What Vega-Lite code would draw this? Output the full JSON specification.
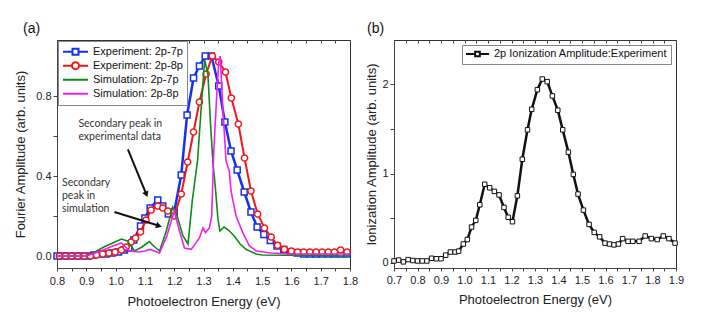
{
  "$schema": "https://vega.github.io/schema/vega-lite/v6.json",
  "padding": {"left": 14, "top": 21, "right": 4, "bottom": 4},
  "spacing": 6,
  "config": {
    "font": "Liberation Sans",
    "view": {"stroke": "#333", "strokeWidth": 1},
    "axis": {"labelFontSize": 11, "titleFontSize": 13, "labelColor": "#222", "titleColor": "#222", "titleFontWeight": "normal", "domainColor": "#444", "tickColor": "#444", "grid": false, "tickSize": 3, "labelPadding": 2},
    "title": {"fontSize": 14, "fontWeight": "normal", "anchor": "start", "frame": "group", "color": "#111"}
  },
  "resolve": {"scale": {"x": "independent", "y": "independent", "color": "independent", "shape": "independent"}},
  "datasets": {
    "expA": [
      {"s": "Experiment: 2p-7p", "E": 0.8, "v": 0}, {"s": "Experiment: 2p-7p", "E": 0.821, "v": 0}, {"s": "Experiment: 2p-7p", "E": 0.842, "v": 0}, {"s": "Experiment: 2p-7p", "E": 0.863, "v": 0}, {"s": "Experiment: 2p-7p", "E": 0.884, "v": 0}, {"s": "Experiment: 2p-7p", "E": 0.905, "v": 0}, {"s": "Experiment: 2p-7p", "E": 0.926, "v": 0.005}, {"s": "Experiment: 2p-7p", "E": 0.947, "v": 0.01}, {"s": "Experiment: 2p-7p", "E": 0.968, "v": 0.01}, {"s": "Experiment: 2p-7p", "E": 0.989, "v": 0.015}, {"s": "Experiment: 2p-7p", "E": 1.01, "v": 0.02}, {"s": "Experiment: 2p-7p", "E": 1.03, "v": 0.03}, {"s": "Experiment: 2p-7p", "E": 1.045, "v": 0.04}, {"s": "Experiment: 2p-7p", "E": 1.062, "v": 0.08}, {"s": "Experiment: 2p-7p", "E": 1.085, "v": 0.15}, {"s": "Experiment: 2p-7p", "E": 1.1, "v": 0.19}, {"s": "Experiment: 2p-7p", "E": 1.118, "v": 0.24}, {"s": "Experiment: 2p-7p", "E": 1.144, "v": 0.28}, {"s": "Experiment: 2p-7p", "E": 1.161, "v": 0.25}, {"s": "Experiment: 2p-7p", "E": 1.18, "v": 0.21}, {"s": "Experiment: 2p-7p", "E": 1.2, "v": 0.22}, {"s": "Experiment: 2p-7p", "E": 1.224, "v": 0.405}, {"s": "Experiment: 2p-7p", "E": 1.244, "v": 0.705}, {"s": "Experiment: 2p-7p", "E": 1.266, "v": 0.89}, {"s": "Experiment: 2p-7p", "E": 1.286, "v": 0.95}, {"s": "Experiment: 2p-7p", "E": 1.306, "v": 1.0}, {"s": "Experiment: 2p-7p", "E": 1.327, "v": 1.0}, {"s": "Experiment: 2p-7p", "E": 1.352, "v": 0.85}, {"s": "Experiment: 2p-7p", "E": 1.373, "v": 0.67}, {"s": "Experiment: 2p-7p", "E": 1.394, "v": 0.525}, {"s": "Experiment: 2p-7p", "E": 1.415, "v": 0.43}, {"s": "Experiment: 2p-7p", "E": 1.439, "v": 0.32}, {"s": "Experiment: 2p-7p", "E": 1.462, "v": 0.22}, {"s": "Experiment: 2p-7p", "E": 1.483, "v": 0.145}, {"s": "Experiment: 2p-7p", "E": 1.506, "v": 0.108}, {"s": "Experiment: 2p-7p", "E": 1.528, "v": 0.078}, {"s": "Experiment: 2p-7p", "E": 1.551, "v": 0.05}, {"s": "Experiment: 2p-7p", "E": 1.574, "v": 0.033}, {"s": "Experiment: 2p-7p", "E": 1.597, "v": 0.02}, {"s": "Experiment: 2p-7p", "E": 1.62, "v": 0.015}, {"s": "Experiment: 2p-7p", "E": 1.642, "v": 0.01}, {"s": "Experiment: 2p-7p", "E": 1.663, "v": 0.01}, {"s": "Experiment: 2p-7p", "E": 1.684, "v": 0.01}, {"s": "Experiment: 2p-7p", "E": 1.705, "v": 0.01}, {"s": "Experiment: 2p-7p", "E": 1.726, "v": 0.01}, {"s": "Experiment: 2p-7p", "E": 1.747, "v": 0.01}, {"s": "Experiment: 2p-7p", "E": 1.768, "v": 0.01}, {"s": "Experiment: 2p-7p", "E": 1.79, "v": 0.01},
      {"s": "Experiment: 2p-8p", "E": 0.808, "v": 0}, {"s": "Experiment: 2p-8p", "E": 0.829, "v": 0}, {"s": "Experiment: 2p-8p", "E": 0.85, "v": 0}, {"s": "Experiment: 2p-8p", "E": 0.871, "v": 0}, {"s": "Experiment: 2p-8p", "E": 0.893, "v": 0}, {"s": "Experiment: 2p-8p", "E": 0.914, "v": 0}, {"s": "Experiment: 2p-8p", "E": 0.935, "v": 0.005}, {"s": "Experiment: 2p-8p", "E": 0.956, "v": 0.01}, {"s": "Experiment: 2p-8p", "E": 0.977, "v": 0.015}, {"s": "Experiment: 2p-8p", "E": 0.998, "v": 0.02}, {"s": "Experiment: 2p-8p", "E": 1.02, "v": 0.03}, {"s": "Experiment: 2p-8p", "E": 1.036, "v": 0.045}, {"s": "Experiment: 2p-8p", "E": 1.053, "v": 0.07}, {"s": "Experiment: 2p-8p", "E": 1.068, "v": 0.09}, {"s": "Experiment: 2p-8p", "E": 1.085, "v": 0.12}, {"s": "Experiment: 2p-8p", "E": 1.104, "v": 0.18}, {"s": "Experiment: 2p-8p", "E": 1.121, "v": 0.23}, {"s": "Experiment: 2p-8p", "E": 1.144, "v": 0.25}, {"s": "Experiment: 2p-8p", "E": 1.161, "v": 0.24}, {"s": "Experiment: 2p-8p", "E": 1.178, "v": 0.225}, {"s": "Experiment: 2p-8p", "E": 1.2, "v": 0.2}, {"s": "Experiment: 2p-8p", "E": 1.224, "v": 0.31}, {"s": "Experiment: 2p-8p", "E": 1.246, "v": 0.47}, {"s": "Experiment: 2p-8p", "E": 1.266, "v": 0.62}, {"s": "Experiment: 2p-8p", "E": 1.286, "v": 0.77}, {"s": "Experiment: 2p-8p", "E": 1.309, "v": 0.91}, {"s": "Experiment: 2p-8p", "E": 1.33, "v": 1.0}, {"s": "Experiment: 2p-8p", "E": 1.352, "v": 0.97}, {"s": "Experiment: 2p-8p", "E": 1.375, "v": 0.92}, {"s": "Experiment: 2p-8p", "E": 1.395, "v": 0.79}, {"s": "Experiment: 2p-8p", "E": 1.419, "v": 0.66}, {"s": "Experiment: 2p-8p", "E": 1.44, "v": 0.49}, {"s": "Experiment: 2p-8p", "E": 1.462, "v": 0.325}, {"s": "Experiment: 2p-8p", "E": 1.485, "v": 0.21}, {"s": "Experiment: 2p-8p", "E": 1.508, "v": 0.14}, {"s": "Experiment: 2p-8p", "E": 1.531, "v": 0.095}, {"s": "Experiment: 2p-8p", "E": 1.553, "v": 0.053}, {"s": "Experiment: 2p-8p", "E": 1.576, "v": 0.033}, {"s": "Experiment: 2p-8p", "E": 1.6, "v": 0.025}, {"s": "Experiment: 2p-8p", "E": 1.621, "v": 0.02}, {"s": "Experiment: 2p-8p", "E": 1.642, "v": 0.02}, {"s": "Experiment: 2p-8p", "E": 1.663, "v": 0.02}, {"s": "Experiment: 2p-8p", "E": 1.684, "v": 0.02}, {"s": "Experiment: 2p-8p", "E": 1.705, "v": 0.02}, {"s": "Experiment: 2p-8p", "E": 1.726, "v": 0.02}, {"s": "Experiment: 2p-8p", "E": 1.747, "v": 0.02}, {"s": "Experiment: 2p-8p", "E": 1.768, "v": 0.03}, {"s": "Experiment: 2p-8p", "E": 1.79, "v": 0.02},
      {"s": "Simulation: 2p-7p", "E": 0.8, "v": 0}, {"s": "Simulation: 2p-7p", "E": 0.9, "v": 0}, {"s": "Simulation: 2p-7p", "E": 0.93, "v": 0.02}, {"s": "Simulation: 2p-7p", "E": 0.96, "v": 0.045}, {"s": "Simulation: 2p-7p", "E": 0.99, "v": 0.065}, {"s": "Simulation: 2p-7p", "E": 1.02, "v": 0.085}, {"s": "Simulation: 2p-7p", "E": 1.04, "v": 0.075}, {"s": "Simulation: 2p-7p", "E": 1.065, "v": 0.025}, {"s": "Simulation: 2p-7p", "E": 1.09, "v": 0.045}, {"s": "Simulation: 2p-7p", "E": 1.115, "v": 0.072}, {"s": "Simulation: 2p-7p", "E": 1.13, "v": 0.05}, {"s": "Simulation: 2p-7p", "E": 1.15, "v": 0.025}, {"s": "Simulation: 2p-7p", "E": 1.172, "v": 0.12}, {"s": "Simulation: 2p-7p", "E": 1.195, "v": 0.245}, {"s": "Simulation: 2p-7p", "E": 1.21, "v": 0.2}, {"s": "Simulation: 2p-7p", "E": 1.23, "v": 0.1}, {"s": "Simulation: 2p-7p", "E": 1.247, "v": 0.06}, {"s": "Simulation: 2p-7p", "E": 1.262, "v": 0.28}, {"s": "Simulation: 2p-7p", "E": 1.28, "v": 0.48}, {"s": "Simulation: 2p-7p", "E": 1.292, "v": 0.74}, {"s": "Simulation: 2p-7p", "E": 1.304, "v": 0.98}, {"s": "Simulation: 2p-7p", "E": 1.315, "v": 0.91}, {"s": "Simulation: 2p-7p", "E": 1.324, "v": 0.66}, {"s": "Simulation: 2p-7p", "E": 1.332, "v": 0.47}, {"s": "Simulation: 2p-7p", "E": 1.34, "v": 0.35}, {"s": "Simulation: 2p-7p", "E": 1.349, "v": 0.19}, {"s": "Simulation: 2p-7p", "E": 1.356, "v": 0.125}, {"s": "Simulation: 2p-7p", "E": 1.37, "v": 0.145}, {"s": "Simulation: 2p-7p", "E": 1.385, "v": 0.13}, {"s": "Simulation: 2p-7p", "E": 1.405, "v": 0.1}, {"s": "Simulation: 2p-7p", "E": 1.425, "v": 0.06}, {"s": "Simulation: 2p-7p", "E": 1.445, "v": 0.033}, {"s": "Simulation: 2p-7p", "E": 1.48, "v": 0.01}, {"s": "Simulation: 2p-7p", "E": 1.5, "v": 0.005}, {"s": "Simulation: 2p-7p", "E": 1.8, "v": 0},
      {"s": "Simulation: 2p-8p", "E": 0.8, "v": 0}, {"s": "Simulation: 2p-8p", "E": 0.9, "v": 0}, {"s": "Simulation: 2p-8p", "E": 0.95, "v": 0.025}, {"s": "Simulation: 2p-8p", "E": 0.99, "v": 0.05}, {"s": "Simulation: 2p-8p", "E": 1.02, "v": 0.065}, {"s": "Simulation: 2p-8p", "E": 1.048, "v": 0.025}, {"s": "Simulation: 2p-8p", "E": 1.08, "v": 0.02}, {"s": "Simulation: 2p-8p", "E": 1.1, "v": 0.025}, {"s": "Simulation: 2p-8p", "E": 1.118, "v": 0.033}, {"s": "Simulation: 2p-8p", "E": 1.15, "v": 0.015}, {"s": "Simulation: 2p-8p", "E": 1.175, "v": 0.1}, {"s": "Simulation: 2p-8p", "E": 1.2, "v": 0.225}, {"s": "Simulation: 2p-8p", "E": 1.218, "v": 0.125}, {"s": "Simulation: 2p-8p", "E": 1.235, "v": 0.04}, {"s": "Simulation: 2p-8p", "E": 1.258, "v": 0.033}, {"s": "Simulation: 2p-8p", "E": 1.286, "v": 0.09}, {"s": "Simulation: 2p-8p", "E": 1.298, "v": 0.14}, {"s": "Simulation: 2p-8p", "E": 1.307, "v": 0.117}, {"s": "Simulation: 2p-8p", "E": 1.32, "v": 0.14}, {"s": "Simulation: 2p-8p", "E": 1.328, "v": 0.2}, {"s": "Simulation: 2p-8p", "E": 1.335, "v": 0.52}, {"s": "Simulation: 2p-8p", "E": 1.345, "v": 0.8}, {"s": "Simulation: 2p-8p", "E": 1.352, "v": 0.97}, {"s": "Simulation: 2p-8p", "E": 1.357, "v": 1.0}, {"s": "Simulation: 2p-8p", "E": 1.366, "v": 0.74}, {"s": "Simulation: 2p-8p", "E": 1.377, "v": 0.475}, {"s": "Simulation: 2p-8p", "E": 1.388, "v": 0.425}, {"s": "Simulation: 2p-8p", "E": 1.394, "v": 0.325}, {"s": "Simulation: 2p-8p", "E": 1.411, "v": 0.2}, {"s": "Simulation: 2p-8p", "E": 1.434, "v": 0.117}, {"s": "Simulation: 2p-8p", "E": 1.457, "v": 0.05}, {"s": "Simulation: 2p-8p", "E": 1.48, "v": 0.025}, {"s": "Simulation: 2p-8p", "E": 1.53, "v": 0.015}, {"s": "Simulation: 2p-8p", "E": 1.6, "v": 0.01}, {"s": "Simulation: 2p-8p", "E": 1.8, "v": 0.01}
    ],
    "notesA": [
      {"E": 0.873, "v": 0.66, "t": "Secondary peak in"},
      {"E": 0.873, "v": 0.595, "t": "experimental data"},
      {"E": 0.817, "v": 0.363, "t": "Secondary"},
      {"E": 0.817, "v": 0.3, "t": "peak in"},
      {"E": 0.817, "v": 0.233, "t": "simulation"}
    ],
    "arrowsA": [
      {"id": 1, "E": 1.042, "v": 0.533, "E2": 1.105, "v2": 0.308},
      {"id": 2, "E": 0.996, "v": 0.22, "E2": 1.148, "v2": 0.151}
    ],
    "headsA": [
      {"id": 1, "E": 1.105, "v": 0.308},
      {"id": 2, "E": 1.148, "v": 0.151}
    ],
    "expB": [
      {"E": 0.70, "v": 0.02}, {"E": 0.72, "v": 0.03}, {"E": 0.74, "v": 0.01}, {"E": 0.76, "v": 0.035}, {"E": 0.78, "v": 0.025}, {"E": 0.80, "v": 0.02}, {"E": 0.82, "v": 0.02}, {"E": 0.84, "v": 0.02}, {"E": 0.86, "v": 0.05}, {"E": 0.88, "v": 0.045}, {"E": 0.90, "v": 0.045}, {"E": 0.92, "v": 0.085}, {"E": 0.94, "v": 0.12}, {"E": 0.96, "v": 0.12}, {"E": 0.975, "v": 0.13}, {"E": 0.995, "v": 0.21}, {"E": 1.012, "v": 0.26}, {"E": 1.03, "v": 0.40}, {"E": 1.048, "v": 0.475}, {"E": 1.065, "v": 0.65}, {"E": 1.086, "v": 0.88}, {"E": 1.107, "v": 0.84}, {"E": 1.127, "v": 0.80}, {"E": 1.147, "v": 0.76}, {"E": 1.168, "v": 0.62}, {"E": 1.186, "v": 0.51}, {"E": 1.204, "v": 0.46}, {"E": 1.225, "v": 0.75}, {"E": 1.246, "v": 1.16}, {"E": 1.268, "v": 1.49}, {"E": 1.286, "v": 1.72}, {"E": 1.31, "v": 1.94}, {"E": 1.331, "v": 2.06}, {"E": 1.352, "v": 2.03}, {"E": 1.374, "v": 1.87}, {"E": 1.397, "v": 1.71}, {"E": 1.418, "v": 1.49}, {"E": 1.442, "v": 1.24}, {"E": 1.463, "v": 0.99}, {"E": 1.483, "v": 0.77}, {"E": 1.506, "v": 0.59}, {"E": 1.53, "v": 0.43}, {"E": 1.552, "v": 0.34}, {"E": 1.575, "v": 0.29}, {"E": 1.598, "v": 0.22}, {"E": 1.617, "v": 0.21}, {"E": 1.636, "v": 0.20}, {"E": 1.655, "v": 0.21}, {"E": 1.673, "v": 0.27}, {"E": 1.696, "v": 0.24}, {"E": 1.716, "v": 0.24}, {"E": 1.743, "v": 0.24}, {"E": 1.769, "v": 0.30}, {"E": 1.795, "v": 0.27}, {"E": 1.82, "v": 0.26}, {"E": 1.846, "v": 0.30}, {"E": 1.87, "v": 0.27}, {"E": 1.896, "v": 0.22}
    ]
  },
  "hconcat": [
    {
      "width": 293,
      "height": 228,
      "title": {"text": "(a)", "dx": -34, "offset": 4},
      "resolve": {"axis": {"x": "independent", "y": "independent"}},
      "layer": [
        {
          "data": {"values": [{"s": "Experiment: 2p-7p"}, {"s": "Experiment: 2p-8p"}, {"s": "Simulation: 2p-7p"}, {"s": "Simulation: 2p-8p"}]},
          "mark": {"type": "point", "filled": false, "strokeWidth": 2},
          "encoding": {
            "x": {"field": "E", "type": "quantitative", "scale": {"domain": [0.8, 1.8], "nice": false, "zero": false},
              "axis": {"values": [0.8, 0.85, 0.9, 0.95, 1.0, 1.05, 1.1, 1.15, 1.2, 1.25, 1.3, 1.35, 1.4, 1.45, 1.5, 1.55, 1.6, 1.65, 1.7, 1.75, 1.8], "labelExpr": "abs(datum.value*10 - round(datum.value*10)) < 0.01 ? format(datum.value, '.1f') : ''", "labelOverlap": false, "labelFlush": false, "labelPadding": 4, "title": "Photoelectron Energy (eV)", "titlePadding": 9}},
            "y": {"field": "v", "type": "quantitative", "scale": {"domain": [-0.06, 1.08], "nice": false, "zero": false},
              "axis": {"values": [0, 0.2, 0.4, 0.6, 0.8], "labelExpr": "round(datum.value*10) % 4 == 0 ? format(datum.value, '.1f') : ''", "labelOverlap": false, "title": "Fourier Amplitude (arb. units)", "tickSize": 4, "titlePadding": 8}},
            "color": {"field": "s", "type": "nominal",
              "scale": {"domain": ["Experiment: 2p-7p", "Experiment: 2p-8p", "Simulation: 2p-7p", "Simulation: 2p-8p"], "range": ["#1530f0", "#f01818", "#0f8a14", "#f020f0"]},
              "legend": {"orient": "top-left", "offset": 1, "title": null, "labelFontSize": 11, "labelColor": "#111", "symbolSize": 100, "symbolStrokeWidth": 2, "symbolOpacity": 1, "strokeColor": "#888", "fillColor": "white", "padding": 4, "rowPadding": 0, "clipHeight": 13.3, "labelOffset": 19}},
            "shape": {"field": "s", "type": "nominal",
              "scale": {"domain": ["Experiment: 2p-7p", "Experiment: 2p-8p", "Simulation: 2p-7p", "Simulation: 2p-8p"], "range": ["M-1,0H0.9M2.1,0H4M0.9,-0.6H2.1V0.6H0.9Z", "M-1,0H0.8M2.2,0H4M0.8,0A0.7,0.7 0 1,1 2.2,0A0.7,0.7 0 1,1 0.8,0Z", "M-1,0H4", "M-1,0H4"]},
              "legend": {"orient": "top-left", "offset": 1, "title": null, "labelFontSize": 11, "labelColor": "#111", "symbolSize": 100, "symbolStrokeWidth": 2, "symbolOpacity": 1, "strokeColor": "#888", "fillColor": "white", "padding": 4, "rowPadding": 0, "clipHeight": 13.3, "labelOffset": 19}}
          }
        },
        {
          "data": {"name": "expA"},
          "transform": [{"filter": "datum.s == 'Experiment: 2p-7p'"}],
          "mark": {"type": "line", "strokeWidth": 2.5},
          "encoding": {
            "x": {"field": "E", "type": "quantitative", "axis": {"orient": "top", "values": [0.8, 0.85, 0.9, 0.95, 1.0, 1.05, 1.1, 1.15, 1.2, 1.25, 1.3, 1.35, 1.4, 1.45, 1.5, 1.55, 1.6, 1.65, 1.7, 1.75, 1.8], "labels": false, "title": null, "domain": false, "tickSize": -3}},
            "y": {"field": "v", "type": "quantitative", "axis": null},
            "color": {"field": "s", "type": "nominal", "legend": null}
          }
        },
        {
          "data": {"name": "expA"},
          "transform": [{"filter": "datum.s == 'Experiment: 2p-7p'"}],
          "mark": {"type": "point", "shape": "square", "filled": false, "fill": "white", "fillOpacity": 1, "opacity": 1, "size": 36, "strokeWidth": 1.5},
          "encoding": {
            "x": {"field": "E", "type": "quantitative", "axis": null},
            "y": {"field": "v", "type": "quantitative", "axis": null},
            "color": {"field": "s", "type": "nominal", "legend": null}
          }
        },
        {
          "data": {"name": "expA"},
          "transform": [{"filter": "datum.s == 'Experiment: 2p-8p'"}],
          "mark": {"type": "line", "strokeWidth": 2},
          "encoding": {
            "x": {"field": "E", "type": "quantitative", "axis": null},
            "y": {"field": "v", "type": "quantitative", "axis": null},
            "color": {"field": "s", "type": "nominal", "legend": null}
          }
        },
        {
          "data": {"name": "expA"},
          "transform": [{"filter": "datum.s == 'Experiment: 2p-8p'"}],
          "mark": {"type": "point", "shape": "circle", "filled": false, "fill": "white", "fillOpacity": 1, "opacity": 1, "size": 38, "strokeWidth": 1.5},
          "encoding": {
            "x": {"field": "E", "type": "quantitative", "axis": null},
            "y": {"field": "v", "type": "quantitative", "axis": null},
            "color": {"field": "s", "type": "nominal", "legend": null}
          }
        },
        {
          "data": {"name": "expA"},
          "transform": [{"filter": "datum.s == 'Simulation: 2p-7p' || datum.s == 'Simulation: 2p-8p'"}],
          "mark": {"type": "line", "strokeWidth": 1.6},
          "encoding": {
            "x": {"field": "E", "type": "quantitative", "axis": null},
            "y": {"field": "v", "type": "quantitative", "axis": null},
            "color": {"field": "s", "type": "nominal", "legend": null}
          }
        },
        {
          "data": {"name": "notesA"},
          "mark": {"type": "text", "align": "left", "baseline": "middle", "font": "Lato", "fontSize": 10.5, "color": "#333"},
          "encoding": {
            "x": {"field": "E", "type": "quantitative", "axis": null},
            "y": {"field": "v", "type": "quantitative", "axis": null},
            "text": {"field": "t"}
          }
        },
        {
          "data": {"name": "arrowsA"},
          "mark": {"type": "rule", "strokeWidth": 2, "color": "#111"},
          "encoding": {
            "x": {"field": "E", "type": "quantitative", "axis": null},
            "y": {"field": "v", "type": "quantitative", "axis": null},
            "x2": {"field": "E2"},
            "y2": {"field": "v2"}
          }
        },
        {
          "data": {"name": "headsA"},
          "transform": [{"filter": "datum.id == 1"}],
          "mark": {"type": "point", "shape": "triangle-up", "filled": true, "color": "#111", "size": 45, "angle": 157, "opacity": 1},
          "encoding": {
            "x": {"field": "E", "type": "quantitative", "axis": null},
            "y": {"field": "v", "type": "quantitative", "axis": null}
          }
        },
        {
          "data": {"name": "headsA"},
          "transform": [{"filter": "datum.id == 2"}],
          "mark": {"type": "point", "shape": "triangle-up", "filled": true, "color": "#111", "size": 45, "angle": 107, "opacity": 1},
          "encoding": {
            "x": {"field": "E", "type": "quantitative", "axis": null},
            "y": {"field": "v", "type": "quantitative", "axis": null}
          }
        }
      ]
    },
    {
      "width": 282,
      "height": 228,
      "title": {"text": "(b)", "dx": -27, "offset": 4},
      "resolve": {"axis": {"x": "independent", "y": "independent"}},
      "layer": [
        {
          "data": {"values": [{"s": "2p Ionization Amplitude:Experiment"}]},
          "mark": {"type": "point", "filled": false, "strokeWidth": 2},
          "encoding": {
            "x": {"field": "E", "type": "quantitative", "scale": {"domain": [0.7, 1.9], "nice": false, "zero": false},
              "axis": {"values": [0.7, 0.75, 0.8, 0.85, 0.9, 0.95, 1.0, 1.05, 1.1, 1.15, 1.2, 1.25, 1.3, 1.35, 1.4, 1.45, 1.5, 1.55, 1.6, 1.65, 1.7, 1.75, 1.8, 1.85, 1.9], "labelExpr": "abs(datum.value*10 - round(datum.value*10)) < 0.01 ? format(datum.value, '.1f') : ''", "labelOverlap": false, "labelFlush": false, "labelPadding": 3, "title": "Photoelectron Energy (eV)", "titlePadding": 8}},
            "y": {"field": "v", "type": "quantitative", "scale": {"domain": [-0.059, 2.497], "nice": false, "zero": false},
              "axis": {"values": [0, 0.5, 1, 1.5, 2], "labelExpr": "datum.value % 1 == 0 ? format(datum.value, 'd') : ''", "labelOverlap": false, "title": "Ionization Amplitude (arb. units)", "tickSize": 4, "titlePadding": 3}},
            "color": {"field": "s", "type": "nominal",
              "scale": {"domain": ["2p Ionization Amplitude:Experiment"], "range": ["#111111"]},
              "legend": {"orient": "top-right", "offset": 5, "title": null, "labelFontSize": 11, "labelLimit": 300, "labelColor": "#111", "symbolSize": 100, "symbolStrokeWidth": 2, "symbolOpacity": 1, "strokeColor": "#888", "fillColor": "white", "padding": 3, "labelOffset": 17}},
            "shape": {"field": "s", "type": "nominal",
              "scale": {"domain": ["2p Ionization Amplitude:Experiment"], "range": ["M-1,0H0.83M1.77,0H3.6M0.83,-0.47H1.77V0.47H0.83Z"]},
              "legend": {"orient": "top-right", "offset": 5, "title": null, "labelFontSize": 11, "labelLimit": 300, "labelColor": "#111", "symbolSize": 100, "symbolStrokeWidth": 2, "symbolOpacity": 1, "strokeColor": "#888", "fillColor": "white", "padding": 3, "labelOffset": 17}}
          }
        },
        {
          "data": {"name": "expB"},
          "mark": {"type": "line", "strokeWidth": 2.5, "color": "#111"},
          "encoding": {
            "x": {"field": "E", "type": "quantitative", "axis": {"orient": "top", "values": [0.7, 0.75, 0.8, 0.85, 0.9, 0.95, 1.0, 1.05, 1.1, 1.15, 1.2, 1.25, 1.3, 1.35, 1.4, 1.45, 1.5, 1.55, 1.6, 1.65, 1.7, 1.75, 1.8, 1.85, 1.9], "labels": false, "title": null, "domain": false, "tickSize": -3}},
            "y": {"field": "v", "type": "quantitative", "axis": null}
          }
        },
        {
          "data": {"name": "expB"},
          "mark": {"type": "point", "shape": "square", "filled": false, "fill": "white", "fillOpacity": 1, "opacity": 1, "color": "#111", "size": 20, "strokeWidth": 1},
          "encoding": {
            "x": {"field": "E", "type": "quantitative", "axis": null},
            "y": {"field": "v", "type": "quantitative", "axis": null}
          }
        }
      ]
    }
  ]
}
